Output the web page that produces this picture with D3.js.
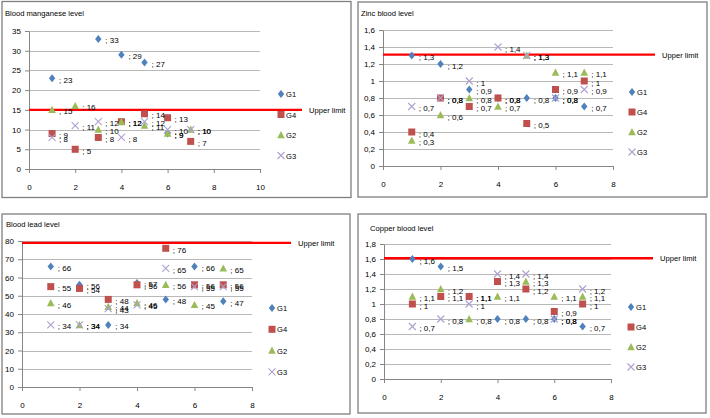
<!DOCTYPE html>
<html><head><meta charset="utf-8">
<script src="https://cdn.jsdelivr.net/npm/d3@7"></script>
<style>body{margin:0;background:#fff}text{font-family:"Liberation Sans",Arial,sans-serif;fill:#000}</style>
</head><body><svg id="c" width="710" height="418"></svg>
<script>
// ---------- data ----------
const xValues = [1, 2, 3, 4, 5, 6, 7];
const seriesNames = ["G1", "G4", "G2", "G3"];
const seriesColors = ["#4F81BD", "#C0504D", "#9BBB59", "#ADA0D0"];

const mnTitle = "Blood manganese level";
const mnG1 = [23, null, 33, 29, 27, 9, null];
const mnG4 = [9, 5, 8, 12, 14, 13, 7];
const mnG2 = [15, 16, 10, 12, 11, 9, 10];
const mnG3 = [8, 11, 12, 8, 12, 10, 10];
const mnLimit = 15;
const mnXTicks = [0, 2, 4, 6, 8, 10];
const mnYTicks = [0, 5, 10, 15, 20, 25, 30, 35];

const znTitle = "Zinc blood level";
const znG1 = [1.3, 1.2, 0.9, 0.8, 0.8, 0.8, 0.7];
const znG4 = [0.4, 0.8, 0.7, 0.8, 0.5, 0.9, 1.0];
const znG2 = [0.3, 0.6, 0.8, 0.7, 1.3, 1.1, 1.1];
const znG3 = [0.7, 0.8, 1.0, 1.4, 1.3, 0.8, 0.9];
const znLimit = 1.31;
const znXTicks = [0, 2, 4, 6, 8];
const znYTicks = [0, 0.2, 0.4, 0.6, 0.8, 1, 1.2, 1.4, 1.6];

const pbTitle = "Blood lead level";
const pbG1 = [66, 56, 34, 57, 48, 66, 47];
const pbG4 = [55, 54, 48, 56, 76, 56, 56];
const pbG2 = [46, 34, 44, 46, 56, 45, 65];
const pbG3 = [34, 34, 43, 45, 65, 55, 55];
const pbLimit = 79;
const pbXTicks = [0, 2, 4, 6, 8];
const pbYTicks = [0, 10, 20, 30, 40, 50, 60, 70, 80];

const cuTitle = "Copper blood level";
const cuG1 = [1.6, 1.5, 1.1, 0.8, 0.8, 0.8, 0.7];
const cuG4 = [1.0, 1.1, 1.1, 1.3, 1.2, 0.9, 1.0];
const cuG2 = [1.1, 1.2, 0.8, 1.1, 1.3, 1.1, 1.1];
const cuG3 = [0.7, 0.8, 1.0, 1.4, 1.4, 0.8, 1.2];
const cuLimit = 1.61;
const cuXTicks = [0, 2, 4, 6, 8];
const cuYTicks = [0, 0.2, 0.4, 0.6, 0.8, 1, 1.2, 1.4, 1.6, 1.8];

const limitLabel = "Upper limit";

// ---------- layout ----------
const panels = [
  {title: mnTitle, series: [mnG1, mnG4, mnG2, mnG3], limit: mnLimit, xt: mnXTicks, yt: mnYTicks,
   box: [2, 1.5, 349, 196], plot: [29, 31, 260, 169], titlePos: [5, 16], lineEnd: 302, legend: [281, 94, 20.5]},
  {title: znTitle, series: [znG1, znG4, znG2, znG3], limit: znLimit, xt: znXTicks, yt: znYTicks,
   box: [358, 2, 349, 195], plot: [383, 30, 613, 166], titlePos: [361, 16], lineEnd: 655, legend: [632, 92, 20]},
  {title: pbTitle, series: [pbG1, pbG4, pbG2, pbG3], limit: pbLimit, xt: pbXTicks, yt: pbYTicks,
   box: [2, 214, 348, 200], plot: [22, 241, 252, 387], titlePos: [6, 227], lineEnd: 291, legend: [272, 308, 21.3]},
  {title: cuTitle, series: [cuG1, cuG4, cuG2, cuG3], limit: cuLimit, xt: cuXTicks, yt: cuYTicks,
   box: [358, 214, 348, 199], plot: [384, 244, 611, 379], titlePos: [370, 231], lineEnd: 653, legend: [631, 307, 20]}
];

const fmt = v => String(v).replace(".", ",");
const svg = d3.select("#c");
svg.append("rect").attr("width", 710).attr("height", 418).attr("fill", "#fff");

function marker(g, i, color) {
  if (i === 0) {
    g.append("path").attr("d", "M0,-4L3.2,0L0,4L-3.2,0Z").attr("fill", color);
  } else if (i === 1) {
    g.append("rect").attr("x", -3.5).attr("y", -3.5).attr("width", 7).attr("height", 7).attr("fill", color);
  } else if (i === 2) {
    g.append("path").attr("d", "M0,-4L3.8,3.2L-3.8,3.2Z").attr("fill", color);
  } else {
    g.append("path").attr("d", "M-3.5,-3.5L3.5,3.5M3.5,-3.5L-3.5,3.5").attr("stroke", color).attr("stroke-width", 1.1).attr("fill", "none");
  }
}

panels.forEach(p => {
  const [bx, by, bw, bh] = p.box;
  svg.append("rect").attr("x", bx).attr("y", by).attr("width", bw).attr("height", bh)
    .attr("fill", "#fff").attr("stroke", "#7f7f7f").attr("stroke-width", 1.3);
  const [l, t, r, b] = p.plot;
  const x = d3.scaleLinear().domain([p.xt[0], p.xt[p.xt.length - 1]]).range([l, r]);
  const y = d3.scaleLinear().domain([p.yt[0], p.yt[p.yt.length - 1]]).range([b, t]);

  svg.append("text").attr("x", p.titlePos[0]).attr("y", p.titlePos[1]).attr("font-size", 7.6).text(p.title);

  // gridlines
  svg.append("g").selectAll("line").data(p.yt.slice(1)).join("line")
    .attr("x1", l).attr("x2", r).attr("y1", d => Math.round(y(d)) + 0.5).attr("y2", d => Math.round(y(d)) + 0.5)
    .attr("stroke", "#b8b8b8").attr("stroke-width", 1);

  const ya = svg.append("g").attr("transform", `translate(${l},0)`)
    .call(d3.axisLeft(y).tickValues(p.yt).tickFormat(fmt).tickSize(4).tickPadding(4).tickSizeOuter(0));
  const xa = svg.append("g").attr("transform", `translate(0,${b})`)
    .call(d3.axisBottom(x).tickValues(p.xt).tickFormat(fmt).tickSize(4).tickPadding(11).tickSizeOuter(0));
  [ya, xa].forEach(a => {
    a.select(".domain").attr("stroke", "#868686");
    a.selectAll(".tick line").attr("stroke", "#868686");
    a.selectAll("text").attr("font-size", 8).attr("font-family", "Liberation Sans, Arial, sans-serif").attr("fill", "#000");
  });

  // upper limit
  svg.append("line").attr("x1", l).attr("x2", p.lineEnd).attr("y1", y(p.limit)).attr("y2", y(p.limit))
    .attr("stroke", "#FF0000").attr("stroke-width", 2.4);
  svg.append("text").attr("x", p.lineEnd + 7).attr("y", y(p.limit) + 3).attr("font-size", 7.6).text(limitLabel);

  // markers
  p.series.forEach((vals, si) => {
    vals.forEach((v, k) => {
      if (v === null) return;
      const g = svg.append("g").attr("transform", `translate(${x(xValues[k])},${y(v)})`);
      marker(g, si, seriesColors[si]);
    });
  });
  // data labels
  p.series.forEach((vals) => {
    vals.forEach((v, k) => {
      if (v === null) return;
      svg.append("text").attr("x", x(xValues[k]) + 7).attr("y", y(v) + 4.5)
        .attr("font-size", 8).attr("fill", "#222").text("; " + fmt(v));
    });
  });

  // legend
  const [lx, ly, step] = p.legend;
  seriesNames.forEach((n, i) => {
    const g = svg.append("g").attr("transform", `translate(${lx},${ly + i * step})`);
    marker(g, i, seriesColors[i]);
    g.append("text").attr("x", 5).attr("y", 3).attr("font-size", 7.6).text(n);
  });
});
</script></body></html>
